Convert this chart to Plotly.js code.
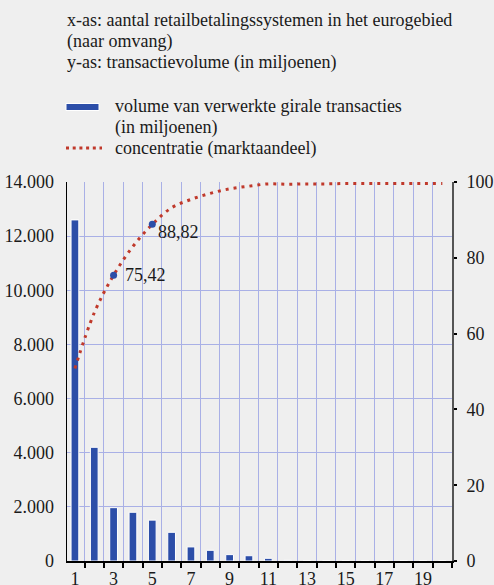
<!DOCTYPE html>
<html>
<head>
<meta charset="utf-8">
<script src="https://cdn.plot.ly/plotly-3.0.1.min.js"></script>
<style>
  html, body { margin: 0; padding: 0; background: #efefef; }
  #chart { width: 494px; height: 585px; }
</style>
</head>
<body>
<div id="chart"></div>
<script>
// Data
const systems = [1,2,3,4,5,6,7,8,9,10,11,12,13,14,15,16,17,18,19,20];
const volume = [12600, 4200, 1970, 1800, 1510, 1060, 520, 395, 235, 195, 100, 25, 0, 0, 0, 0, 0, 0, 0, 0];
const concentration = [50.8, 65.5, 75.42, 83.0, 88.82, 93.2, 95.4, 97.0, 98.2, 98.9, 99.5, 99.4, 99.5, 99.5, 99.6, 99.6, 99.6, 99.6, 99.6, 99.6];
const highlightX = [3, 5];
const highlightY = [75.42, 88.82];
const highlightLabels = ['75,42', '88,82'];
const xTickVals = [1,3,5,7,9,11,13,15,17,19];
const xTickText = ['1','3','5','7','9','11','13','15','17','19'];
const xBoundaries = [1.5,2.5,3.5,4.5,5.5,6.5,7.5,8.5,9.5,10.5,11.5,12.5,13.5,14.5,15.5,16.5,17.5,18.5,19.5,20.5];
const yLeftVals = [0,2000,4000,6000,8000,10000,12000,14000];
const yLeftText = ['0','2.000','4.000','6.000','8.000','10.000','12.000','14.000'];
const yRightVals = [0,20,40,60,80,100];
const yRightText = ['0','20','40','60','80','100'];
const headerLines = ['x-as: aantal retailbetalingssystemen in het eurogebied', '(naar omvang)', 'y-as: transactievolume (in miljoenen)'];
const legendLines = ['volume van verwerkte girale transacties', '(in miljoenen)', 'concentratie (marktaandeel)'];

const FONT = '"Liberation Serif", "Times New Roman", Times, serif';
const BLUE = '#2c4ea8';
const RED = '#c0392b';
const GRID = '#a9b0e6';

// pixel helpers for paper coordinates (plot area: x 67..452, y 182..561)
const L = 67, R = 452, T = 182, B = 561;
const px = v => (v - L) / (R - L);
const py = v => (B - v) / (B - T);

const traces = [
  {
    type: 'bar', x: systems, y: volume, xaxis: 'x', yaxis: 'y',
    width: 0.4,
    marker: { color: BLUE, line: { color: '#ffffff', width: 1 } },
    showlegend: false, hoverinfo: 'skip'
  },
  {
    type: 'scatter', mode: 'lines', x: systems, y: concentration, xaxis: 'x', yaxis: 'y2',
    line: { color: RED, width: 3, dash: '3px,5px', shape: 'spline', smoothing: 1 },
    showlegend: false, hoverinfo: 'skip'
  },
  {
    type: 'scatter', mode: 'markers', x: highlightX, y: highlightY, xaxis: 'x', yaxis: 'y2',
    marker: { color: BLUE, size: 7 },
    showlegend: false, hoverinfo: 'skip'
  }
];

const annotations = [];
const headerY = [20, 42, 63];
headerLines.forEach((t, i) => annotations.push({
  text: t, xref: 'paper', yref: 'paper', x: px(65), y: py(headerY[i]),
  xanchor: 'left', yanchor: 'middle', showarrow: false,
  font: { family: FONT, size: 18, color: '#1a1a1a' }
}));
const legendY = [106, 127, 148];
legendLines.forEach((t, i) => annotations.push({
  text: t, xref: 'paper', yref: 'paper', x: px(113), y: py(legendY[i]),
  xanchor: 'left', yanchor: 'middle', showarrow: false,
  font: { family: FONT, size: 18, color: '#1a1a1a' }
}));
const labelShift = [[9, 0], [4, -8]];
highlightLabels.forEach((t, i) => annotations.push({
  text: t, xref: 'x', yref: 'y2', x: highlightX[i], y: highlightY[i],
  xanchor: 'left', yanchor: 'middle', showarrow: false,
  xshift: labelShift[i][0], yshift: labelShift[i][1],
  font: { family: FONT, size: 18, color: '#1a1a1a' }
}));

const shapes = [
  { type: 'rect', xref: 'paper', yref: 'paper', x0: px(66), x1: px(99), y0: py(110.5), y1: py(103.5),
    fillcolor: BLUE, line: { color: '#ffffff', width: 1 } },
  { type: 'line', xref: 'paper', yref: 'paper', x0: px(66), x1: px(102), y0: py(148), y1: py(148),
    line: { color: RED, width: 3, dash: '3px,3.7px' } }
];

const layout = {
  width: 494, height: 585,
  margin: { l: L, r: 494 - R, t: T, b: 585 - B, pad: 0 },
  paper_bgcolor: '#efefef', plot_bgcolor: '#efefef',
  font: { family: FONT, size: 18, color: '#1a1a1a' },
  showlegend: false,
  bargap: 0.6,
  xaxis: {
    range: [0.59, 20.5], tickmode: 'array', tickvals: xTickVals, ticktext: xTickText,
    ticks: '', showgrid: false, zeroline: false,
    showline: true, linecolor: '#000000', linewidth: 2,
    tickfont: { family: FONT, size: 18, color: '#1a1a1a' },
    minor: { tickmode: 'array', tickvals: xBoundaries, ticks: 'outside', ticklen: 5, tickwidth: 2,
             tickcolor: '#000000', showgrid: true, gridcolor: GRID, gridwidth: 1 },
    fixedrange: true
  },
  yaxis: {
    range: [0, 14000], tickmode: 'array', tickvals: yLeftVals, ticktext: yLeftText,
    ticks: '', showgrid: true, gridcolor: GRID, gridwidth: 1, zeroline: false,
    showline: true, linecolor: '#000000', linewidth: 1.5,
    ticklabelstandoff: 8,
    tickfont: { family: FONT, size: 18, color: '#1a1a1a' },
    fixedrange: true
  },
  yaxis2: {
    range: [0, 100], overlaying: 'y', side: 'right', tickmode: 'array', tickvals: yRightVals, ticktext: yRightText,
    ticks: 'outside', ticklen: 3, tickwidth: 2, tickcolor: '#000000',
    showgrid: false, zeroline: false,
    showline: true, linecolor: '#555555', linewidth: 2,
    ticklabelstandoff: 6,
    tickfont: { family: FONT, size: 18, color: '#1a1a1a' },
    fixedrange: true
  },
  annotations: annotations,
  shapes: shapes
};

Plotly.newPlot('chart', traces, layout, { staticPlot: true, displayModeBar: false });
</script>
</body>
</html>
